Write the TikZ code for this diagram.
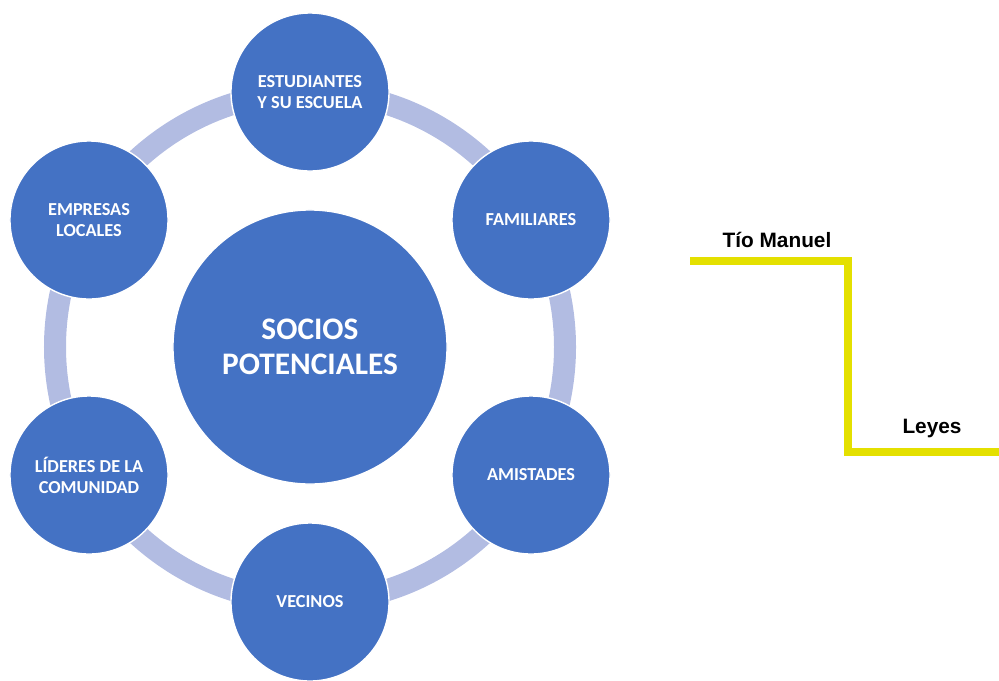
\documentclass[tikz,border=0pt]{standalone}
\usepackage{xcolor}
\usepackage{tikz}
\usepackage{fontspec}
\setmainfont{Liberation Sans}
\newfontfamily\circfont{Carlito}

\definecolor{socioblue}{RGB}{68,114,196}
\definecolor{ringgray}{RGB}{178,188,226}
\definecolor{lineyellow}{RGB}{228,224,0}

\begin{document}
\begin{tikzpicture}
    [x=0.025cm,y=-0.025cm,
    ring/.style={ringgray,line width=0.55cm},
    partner/.style={circle,fill=socioblue,draw=white,line width=1pt,minimum size=3.95cm,
        inner sep=0pt,align=center,text=white,font=\circfont\bfseries\fontsize{13}{15}\selectfont},
    hub/.style={partner,minimum size=6.85cm,font=\circfont\bfseries\fontsize{22.3}{24.5}\selectfont},
    path line/.style={lineyellow,line width=5pt},
    path label/.style={anchor=base,font=\bfseries\fontsize{14.8}{16}\selectfont}]

\useasboundingbox (0,0) rectangle (999,680);

%ring behind the circles
\draw[ring] (310,347) circle[radius=255];

%center and partners
\node[hub] (socios) at (310,347) {SOCIOS\\POTENCIALES};
\node[partner] (estudiantes) at (310,92) {ESTUDIANTES\\Y SU ESCUELA};
\node[partner] (familiares) at (531,220) {FAMILIARES};
\node[partner] (amistades) at (531,475) {AMISTADES};
\node[partner] (vecinos) at (310,602) {VECINOS};
\node[partner] (lideres) at (89,475) {LÍDERES DE LA\\COMUNIDAD};
\node[partner] (empresas) at (89,220) {EMPRESAS\\LOCALES};

%yellow step line
\coordinate (start) at (690,261);
\coordinate (corner1) at (848,261);
\coordinate (corner2) at (848,452);
\coordinate (end) at (999,452);
\draw[path line] (start) -- (corner1) -- (corner2) -- (end);
\node[path label] (tio) at (777,247) {Tío Manuel};
\node[path label] (leyes) at (932,433) {Leyes};

\end{tikzpicture}
\end{document}
